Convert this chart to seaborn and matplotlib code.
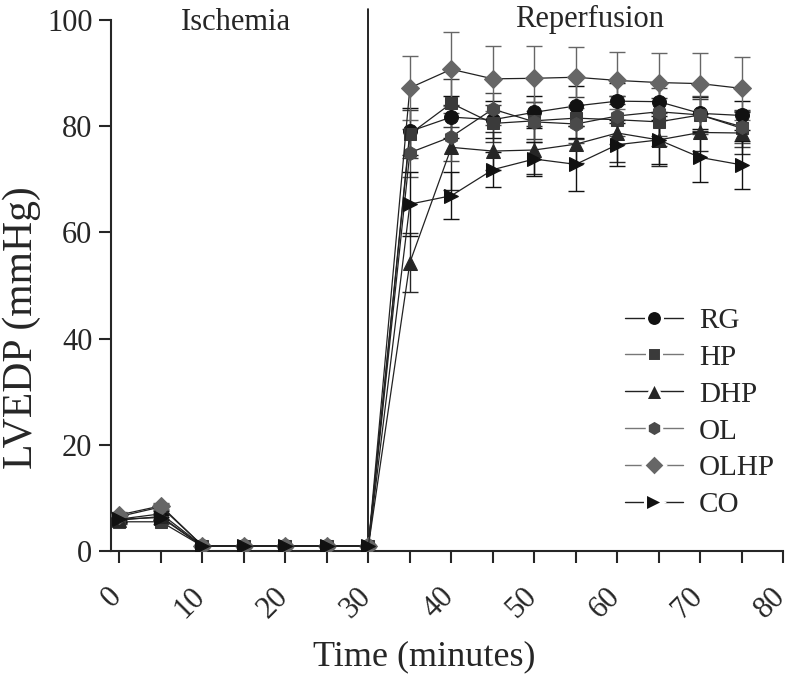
import seaborn as sns
import pandas as pd
import matplotlib.pyplot as plt
import matplotlib.transforms as mtransforms
from matplotlib.lines import Line2D
import numpy as np

# Time points (minutes)
time = [0, 5, 10, 15, 20, 25, 30, 35, 40, 45, 50, 55, 60, 65, 70, 75]

# LVEDP means (mmHg)
rg = [6.0, 7.0, 1.0, 1.0, 1.0, 1.0, 1.0, 79.0, 81.7, 81.2, 82.6, 83.8, 84.7, 84.6, 82.4, 82.0]
hp = [5.5, 5.5, 0.9, 0.9, 0.9, 0.9, 0.9, 78.5, 84.3, 80.5, 81.0, 81.5, 81.2, 80.8, 82.1, 79.6]
dhp = [5.8, 6.5, 0.9, 0.9, 0.9, 0.9, 0.9, 54.3, 76.0, 75.3, 75.5, 76.6, 78.7, 77.4, 78.8, 78.7]
ol = [6.5, 8.3, 1.0, 1.0, 1.0, 1.0, 1.0, 75.0, 78.0, 83.2, 80.8, 80.4, 81.9, 82.7, 82.1, 79.9]
olhp = [6.8, 8.5, 1.0, 1.0, 1.0, 1.0, 1.0, 87.2, 90.7, 88.9, 89.0, 89.2, 88.6, 88.2, 88.0, 87.1]
co = [6.0, 6.3, 0.9, 0.9, 0.9, 0.9, 0.9, 65.3, 66.9, 71.8, 73.8, 72.8, 76.5, 77.4, 74.1, 72.7]

# standard deviations
rg_sd = [0.5, 0.6, 0.1, 0.1, 0.1, 0.1, 0.1, 4.4, 4.0, 3.5, 3.0, 3.8, 3.5, 3.5, 3.0, 2.8]
hp_sd = [0.5, 0.5, 0.1, 0.1, 0.1, 0.1, 0.1, 4.5, 4.5, 3.5, 3.5, 4.0, 4.5, 4.5, 3.0, 3.5]
dhp_sd = [0.5, 0.6, 0.1, 0.1, 0.1, 0.1, 0.1, 5.5, 8.0, 3.5, 4.5, 3.5, 5.5, 5.0, 3.5, 4.0]
ol_sd = [0.6, 0.6, 0.1, 0.1, 0.1, 0.1, 0.1, 4.5, 4.5, 3.0, 3.8, 3.5, 3.8, 4.5, 3.5, 3.0]
olhp_sd = [0.6, 0.6, 0.1, 0.1, 0.1, 0.1, 0.1, 6.0, 7.0, 6.1, 6.1, 5.7, 5.3, 5.6, 5.8, 6.0]
co_sd = [0.5, 0.5, 0.1, 0.1, 0.1, 0.1, 0.1, 6.0, 4.4, 3.3, 3.2, 5.0, 4.0, 4.5, 4.7, 4.5]

groups = ["RG", "HP", "DHP", "OL", "OLHP", "CO"]
means = [rg, hp, dhp, ol, olhp, co]
sds = [rg_sd, hp_sd, dhp_sd, ol_sd, olhp_sd, co_sd]
markers = {"RG": "o", "HP": "s", "DHP": "^", "OL": "h", "OLHP": "D", "CO": ">"}
colors = {"RG": "#111111", "HP": "#3a3a3a", "DHP": "#262626", "OL": "#4a4a4a",
          "OLHP": "#666666", "CO": "#111111"}
line_colors = {"RG": "#222222", "HP": "#777777", "DHP": "#222222", "OL": "#777777",
               "OLHP": "#777777", "CO": "#222222"}
sizes = {"RG": 10, "HP": 9, "DHP": 10, "OL": 10, "OLHP": 9, "CO": 10}
leg_sizes = {"RG": 11.5, "HP": 10.5, "DHP": 13, "OL": 12, "OLHP": 11, "CO": 13}

df = pd.DataFrame({
    "time": np.tile(time, len(groups)),
    "value": np.concatenate(means),
    "sd": np.concatenate(sds),
    "group": np.repeat(groups, len(time)),
})

sns.set_style("ticks")
plt.rcParams["font.family"] = ["Liberation Serif", "DejaVu Serif"]

fig = plt.figure(figsize=(8, 6.74), dpi=100)
ax = fig.add_axes([0.139, 0.1825, 0.84, 0.788])

for g in groups:
    d = df[df["group"] == g]
    ax.errorbar(d["time"], d["value"], yerr=d["sd"], fmt="none",
                ecolor=colors[g], elinewidth=1.0, capsize=6, capthick=1.0, zorder=2)

for g in groups:
    d = df[df["group"] == g]
    sns.lineplot(data=d, x="time", y="value", ax=ax, color="#222222", lw=0.9,
                 marker=markers[g], markersize=sizes[g], markerfacecolor=colors[g],
                 markeredgecolor=colors[g], legend=False, zorder=3)

ax.axvline(30, color="black", lw=1.2, ymin=0, ymax=1.02, clip_on=False, zorder=1)
ax.text(14, 99.5, "Ischemia", ha="center", va="center", fontsize=22)
ax.text(56.6, 100, "Reperfusion", ha="center", va="center", fontsize=22)

ax.set_xlim(-1, 80)
ax.set_ylim(0, 100)
ax.set_xticks(range(0, 81, 10))
ax.set_xticks(range(5, 80, 10), minor=True)
ax.set_yticks(range(0, 101, 20))
ax.tick_params(axis="both", which="both", direction="out", length=8.5, width=1.5, labelsize=22)
ax.tick_params(axis="x", which="major", pad=14)
ax.tick_params(axis="y", which="major", pad=5)
plt.setp(ax.get_xticklabels(), rotation=45, ha="right", va="top")
shift = mtransforms.ScaledTranslation(6 / 72, 0, fig.dpi_scale_trans)
for lab in ax.get_xticklabels():
    lab.set_transform(lab.get_transform() + shift)
ax.set_xlabel("Time (minutes)", fontsize=26)
ax.set_ylabel("LVEDP (mmHg)", fontsize=30)
ax.xaxis.set_label_coords(0.466, -0.168)
ax.yaxis.set_label_coords(-0.105, 0.421)
sns.despine(ax=ax)
for s in ["left", "bottom"]:
    ax.spines[s].set_linewidth(1.5)

handles = [Line2D([], [], color=line_colors[g], lw=1.0, marker=markers[g],
                  markersize=leg_sizes[g], markerfacecolor=colors[g],
                  markeredgecolor="white", markeredgewidth=2.2) for g in groups]
ax.legend(handles, groups, loc="lower right", bbox_to_anchor=(1.027, 0.012), frameon=False,
          fontsize=21, handlelength=2.0, labelspacing=0.36, handletextpad=0.55)

fig.savefig("out.png", dpi=100)
